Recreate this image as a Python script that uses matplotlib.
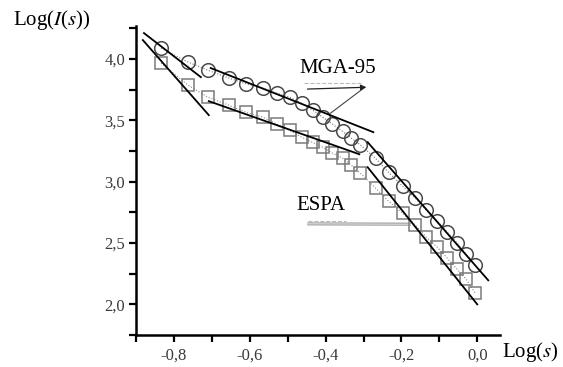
import numpy as np
import matplotlib.pyplot as plt
from matplotlib.ticker import FixedLocator, FuncFormatter

plt.rcParams['font.family'] = ['Liberation Serif', 'DejaVu Serif']
plt.rcParams['mathtext.fontset'] = 'stix'

# log(s), shared by both series
log_s = [-0.834, -0.763, -0.711, -0.655, -0.611, -0.566, -0.529, -0.495, -0.463,
         -0.434, -0.408, -0.382, -0.355, -0.332, -0.308, -0.268, -0.234, -0.197,
         -0.163, -0.134, -0.105, -0.079, -0.053, -0.029, -0.005]
mga95 = [4.09, 3.976, 3.91, 3.845, 3.80, 3.763, 3.722, 3.69, 3.64, 3.584, 3.527,
         3.47, 3.41, 3.355, 3.30, 3.19, 3.077, 2.963, 2.865, 2.767, 2.678, 2.588,
         2.50, 2.408, 2.318]
espa = [3.967, 3.788, 3.69, 3.624, 3.567, 3.527, 3.47, 3.42, 3.363, 3.32, 3.282,
        3.233, 3.192, 3.135, 3.069, 2.947, 2.841, 2.743, 2.645, 2.547, 2.465,
        2.376, 2.286, 2.204, 2.09]

# linear fits, (x0, x1), (y0, y1)
mga_fits = [((-0.879, -0.729), (4.212, 3.853)),
            ((-0.703, -0.274), (3.927, 3.404)),
            ((-0.289, 0.029), (3.322, 2.196))]
espa_fits = [((-0.882, -0.708), (4.155, 3.543)),
             ((-0.708, -0.311), (3.657, 3.224)),
             ((-0.289, 0.0), (3.118, 2.0))]

xticks = [-0.8, -0.6, -0.4, -0.2, 0.0]
yticks = [2.0, 2.5, 3.0, 3.5, 4.0]

fig = plt.figure(figsize=(5.63, 3.67), dpi=100)
ax = fig.add_axes([0.2416, 0.0872, 0.6465, 0.842])

ax.plot(log_s, mga95, ls=':', lw=0.8, color='#777777', marker='o', ms=9.8,
        mfc='none', mec='#4a4a4a', mew=1.1)
ax.plot(log_s, espa, ls=':', lw=0.8, color='#888888', marker='s', ms=9,
        mfc='none', mec='#7a7a7a', mew=1.1)

for xs, ys in mga_fits + espa_fits:
    ax.plot(xs, ys, color='black', lw=1.3)

# MGA-95 label and pointer
ax.text(-0.368, 3.927, 'MGA-95', fontsize=15, ha='center', va='center')
ax.plot([-0.458, -0.303], [3.804, 3.804], color='#bbbbbb', lw=0.8, ls='--')
ax.annotate('', xy=(-0.285, 3.771), xytext=(-0.455, 3.755),
            arrowprops=dict(arrowstyle='-|>', color='#222222', lw=0.9,
                            mutation_scale=8))
ax.plot([-0.300, -0.387], [3.762, 3.559], color='#444444', lw=0.8)

# ESPA label and pointer
ax.text(-0.413, 2.808, 'ESPA', fontsize=15, ha='center', va='center')
ax.plot([-0.447, -0.347], [2.678, 2.678], color='#bbbbbb', lw=0.8, ls='--')
ax.plot([-0.447, -0.176], [2.664, 2.662], color='#888888', lw=0.7)
ax.plot([-0.447, -0.176], [2.648, 2.646], color='#888888', lw=0.7)

ax.set_xlim(-0.9, 0.06)
ax.set_ylim(1.75, 4.27)
for s in ['top', 'right']:
    ax.spines[s].set_visible(False)
for s in ['left', 'bottom']:
    ax.spines[s].set_linewidth(1.8)

fmt = FuncFormatter(lambda v, p: f"{abs(v) if abs(v) < 1e-9 else v:.1f}".replace('.', ','))
ax.xaxis.set_major_locator(FixedLocator(xticks))
ax.xaxis.set_minor_locator(FixedLocator([-0.9, -0.7, -0.5, -0.3, -0.1]))
ax.yaxis.set_major_locator(FixedLocator(yticks))
ax.yaxis.set_minor_locator(FixedLocator([1.75, 2.25, 2.75, 3.25, 3.75, 4.25]))
ax.xaxis.set_major_formatter(fmt)
ax.yaxis.set_major_formatter(fmt)
ax.tick_params(which='both', direction='out', length=5, width=1.6,
               labelsize=12, labelcolor='#3a3a3a')
ax.tick_params(axis='y', pad=3)
ax.tick_params(axis='x', pad=4)

fig.text(13 / 563, 1 - 20 / 367, r'Log($\mathit{I}$($\mathit{s}$))', fontsize=15,
         ha='left', va='center')
fig.text(502 / 563, 1 - 352 / 367, r'Log($\mathit{s}$)', fontsize=15,
         ha='left', va='center')

fig.savefig('out.png', dpi=100)
